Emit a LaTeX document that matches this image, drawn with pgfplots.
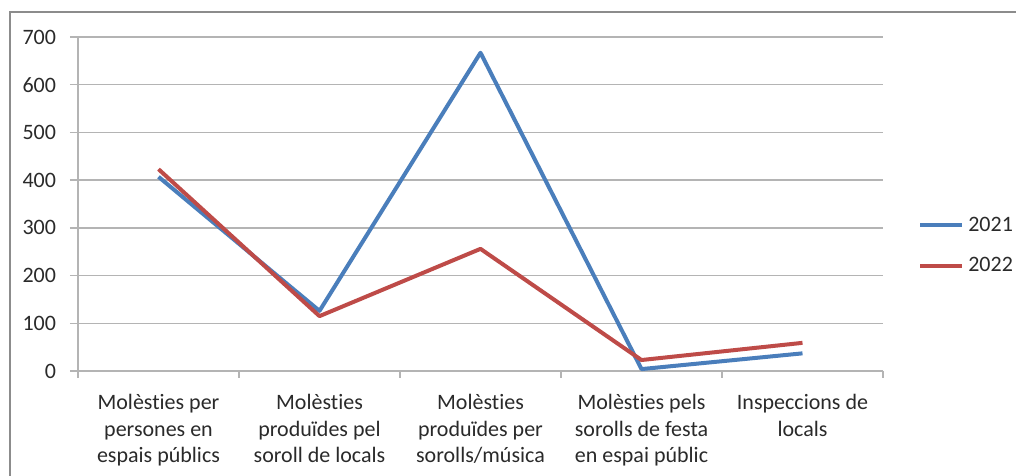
\documentclass[border=0pt]{standalone}
\usepackage{fontspec}
\setmainfont{Carlito}[RawFeature={-liga;-clig;-dlig}]
\usepackage{pgfplots}
\pgfplotsset{compat=1.18}
\usetikzlibrary{calc}
\definecolor{blue21}{HTML}{4A7EBB}
\definecolor{red22}{HTML}{BE4B48}
\definecolor{gridc}{HTML}{B4B4B4}
\definecolor{framec}{HTML}{8C8C8C}
\definecolor{txt}{HTML}{2A2A2A}
\begin{document}
\begin{tikzpicture}
\begin{axis}[
  name=ax,
  scale only axis, width=603.75pt, height=250.5pt,
  xmin=0, xmax=5, ymin=0, ymax=700,
  ytick={0,100,...,700},
  xtick={0.5,1.5,2.5,3.5,4.5},
  xticklabels={{Molèsties per\\persones en\\espais públics},
               {Molèsties\\produïdes pel\\soroll de locals},
               {Molèsties\\produïdes per\\sorolls/música},
               {Molèsties pels\\sorolls de festa\\en espai públic},
               {Inspeccions de\\locals}},
  minor xtick={0,1,2,3,4,5},
  axis x line*=bottom, axis y line*=left,
  axis line style={-, gridc, line width=1pt},
  ymajorgrids, grid style={gridc, line width=1pt},
  tick align=outside,
  major x tick style={draw=none},
  minor x tick style={gridc, line width=1pt},
  major y tick style={gridc, line width=1pt},
  major tick length=6pt, minor tick length=5pt,
  /pgf/number format/assume math mode=true,
  tick label style={font=\fontsize{16.5pt}{20pt}\selectfont, text=txt},
  xticklabel style={align=center, yshift=-8pt},
  yticklabel style={xshift=-7pt},
  legend style={at={(rel axis cs:1.0435,0.376)}, anchor=west, draw=none, fill=none,
    inner sep=0pt, row sep=12pt, font=\fontsize{16.5pt}{20pt}\selectfont, text=txt,
    nodes={inner sep=3pt}},
  legend cell align=left,
  legend image code/.code={\draw[#1] (0pt,0pt) -- (31.5pt,0pt);},
  clip=false,
]
\addplot[blue21, line width=3pt, line join=round] coordinates {(0.5,407) (1.5,126) (2.5,667) (3.5,4) (4.5,37)};
\addlegendentry{2021}
\addplot[red22, line width=3pt, line join=round] coordinates {(0.5,423) (1.5,115) (2.5,256) (3.5,23) (4.5,59)};
\addlegendentry{2022}
\end{axis}
\coordinate (O) at ($(ax.south west)+(-58.5pt,-78pt)$);
\draw[color=framec, line width=1.5pt] ($(O)+(7.5pt,-15pt)$) -- ($(O)+(7.5pt,347.25pt)$) -- ($(O)+(780pt,347.25pt)$);
\pgfresetboundingbox
\useasboundingbox (O) rectangle ($(O)+(762pt,356.25pt)$);
\end{tikzpicture}
\end{document}
